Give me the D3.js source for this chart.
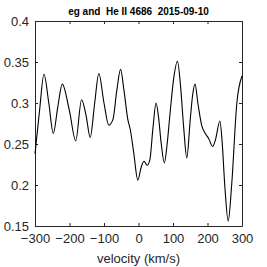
<!DOCTYPE html>
<html>
<head>
<meta charset="utf-8">
<script src="https://cdn.jsdelivr.net/npm/d3@7"></script>
<style>
  body { margin: 0; background: #fff; }
  text { font-family: "Liberation Sans", Arial, sans-serif; fill: #262626; }
  .axis path, .axis line { stroke: #262626; }
</style>
</head>
<body>
<div id="graph"></div>
<script>
// velocity (km/s) and normalised flux
var velocity = [-300, -287, -274, -260, -247, -234, -221, -200, -182, -165, -152, -140,
                -127, -115, -100, -86, -74, -63, -52, -42, -31, -24, -14, -2,
                8, 16, 25, 33, 42, 51, 58, 66, 75, 83, 92, 102,
                113, 122, 131, 140, 150, 157, 164, 172, 183, 195, 203, 215,
                223, 236, 242, 250, 260, 270, 285, 300];
var flux     = [0.238, 0.290, 0.335, 0.300, 0.263, 0.295, 0.323, 0.290, 0.254, 0.304, 0.285, 0.258,
                0.300, 0.336, 0.300, 0.273, 0.280, 0.315, 0.341, 0.315, 0.280, 0.268, 0.240, 0.206,
                0.222, 0.229, 0.224, 0.231, 0.270, 0.300, 0.283, 0.250, 0.227, 0.250, 0.290, 0.330,
                0.351, 0.320, 0.270, 0.233, 0.280, 0.310, 0.323, 0.300, 0.273, 0.262, 0.257, 0.247,
                0.255, 0.278, 0.255, 0.200, 0.156, 0.200, 0.300, 0.333];
var xTicks = [-300, -200, -100, 0, 100, 200, 300];
var yTicks = [0.15, 0.2, 0.25, 0.3, 0.35, 0.4];
var title  = 'eg and  He II 4686  2015-09-10';
var xLabel = 'velocity (km/s)';

var margin = { top: 21, right: 25, bottom: 41, left: 35 };
var width  = 267 - margin.left - margin.right;
var height = 267 - margin.top  - margin.bottom;

var dataset = velocity.map(function (v, i) { return { v: v, f: flux[i] }; });

var xScale = d3.scaleLinear().domain([-300, 300]).range([0, width]);
var yScale = d3.scaleLinear().domain([0.15, 0.4]).range([height, 0]);

var svg = d3.select('div#graph')
            .append('svg')
            .attr('width', 267)
            .attr('height', 267)
            .append('g')
            .attr('transform', 'translate(' + margin.left + ',' + margin.top + ')');

var fmt = function (d) { return d3.format('')(+d.toFixed(2)); };

// axes, ticks pointing inward (all four sides)
svg.append('g').attr('class', 'axis')
   .attr('transform', 'translate(0,' + height + ')')
   .call(d3.axisBottom(xScale).tickValues(xTicks).tickSize(-3).tickPadding(8).tickSizeOuter(0))
   .selectAll('text').style('font-size', '13px');

svg.append('g').attr('class', 'axis')
   .call(d3.axisTop(xScale).tickValues(xTicks).tickSize(-3).tickSizeOuter(0).tickFormat(''));

svg.append('g').attr('class', 'axis')
   .call(d3.axisLeft(yScale).tickValues(yTicks).tickSize(-3).tickPadding(6).tickSizeOuter(0).tickFormat(fmt))
   .selectAll('text').style('font-size', '13px');

svg.append('g').attr('class', 'axis')
   .attr('transform', 'translate(' + width + ',0)')
   .call(d3.axisRight(yScale).tickValues(yTicks).tickSize(-3).tickSizeOuter(0).tickFormat(''));

svg.selectAll('.axis text').style('fill', '#262626').style('font-family', '"Liberation Sans", Arial, sans-serif');

var line = d3.line()
             .x(function (d) { return xScale(d.v); })
             .y(function (d) { return yScale(d.f); })
             .curve(d3.curveMonotoneX);

svg.append('path')
   .datum(dataset)
   .attr('d', line)
   .attr('fill', 'none')
   .attr('stroke', '#000')
   .attr('stroke-width', 1.1);

svg.append('text')
   .attr('x', width / 2)
   .attr('y', -6)
   .style('text-anchor', 'middle')
   .style('font-size', '10px')
   .style('font-weight', 'bold')
   .style('white-space', 'pre')
   .style('fill', '#000')
   .text(title);

svg.append('text')
   .attr('x', width / 2)
   .attr('y', height + 37)
   .style('text-anchor', 'middle')
   .style('font-size', '13px')
   .text(xLabel);
</script>
</body>
</html>
